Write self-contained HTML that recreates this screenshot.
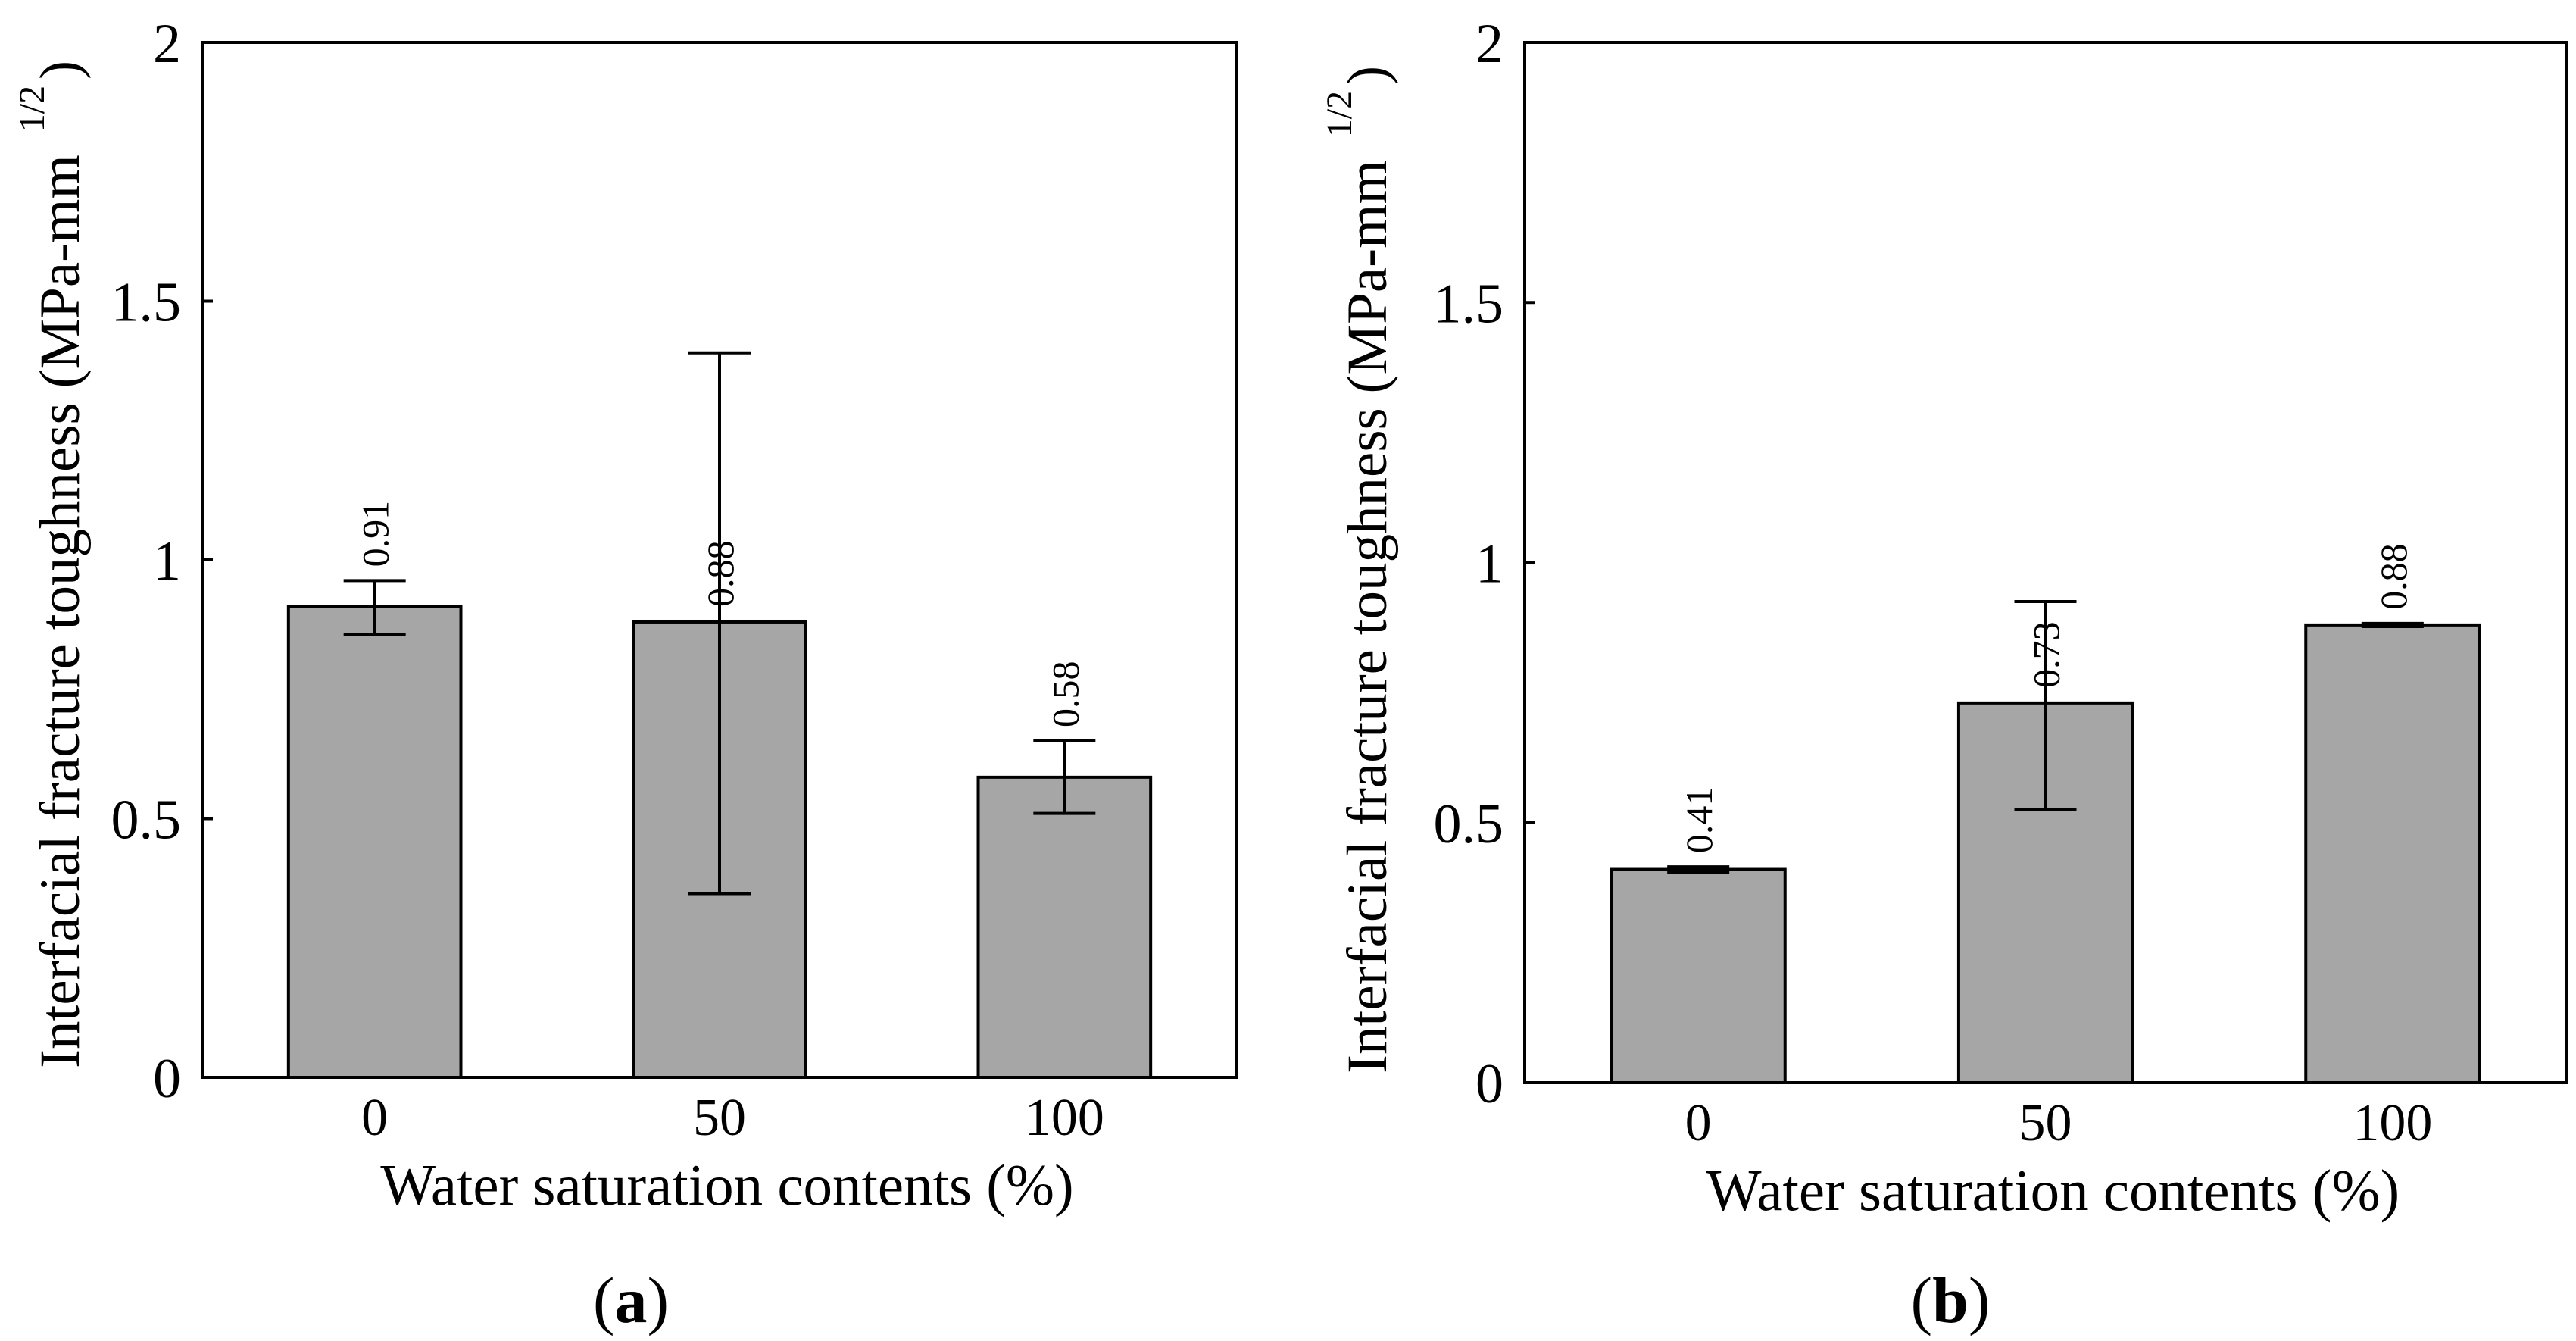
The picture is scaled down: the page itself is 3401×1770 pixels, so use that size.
<!DOCTYPE html>
<html><head><meta charset="utf-8"><style>
html,body{margin:0;padding:0;background:#fff;}
svg{display:block;font-family:"Liberation Serif",serif;}
</style></head><body>
<svg id="fig" width="3401" height="1770" viewBox="0 0 3401 1770" xmlns="http://www.w3.org/2000/svg"></svg>
<script>
const categories = ["0", "50", "100"];
const yTicks = [0, 0.5, 1, 1.5, 2];
const yTickLabels = ["0", "0.5", "1", "1.5", "2"];
const valuesA = [0.91, 0.88, 0.58];
const errLowA = [0.855, 0.355, 0.51];
const errHighA = [0.96, 1.40, 0.65];
const labelsA = ["0.91", "0.88", "0.58"];
const valuesB = [0.41, 0.73, 0.88];
const errLowB = [0.405, 0.525, 0.877];
const errHighB = [0.415, 0.925, 0.883];
const labelsB = ["0.41", "0.73", "0.88"];

const NS = "http://www.w3.org/2000/svg";
const svg = document.getElementById("fig");
function mk(tag, attrs, parent) {
  const e = document.createElementNS(NS, tag);
  for (const k in attrs) e.setAttribute(k, attrs[k]);
  (parent || svg).appendChild(e);
  return e;
}

function drawChart(p, vals, lo, hi, labs, key) {
  const g = mk("g", {});
  
  
  const y = v => p.bottom - (v / 2) * (p.bottom - p.top);
  const band = (p.right - p.left) / categories.length;
  const xc = i => p.left + band * (i + 0.5);
  const bw = band / 2;
  vals.forEach((v, i) => {
    const r = mk("rect", {x: xc(i) - bw / 2, y: y(v), width: bw, height: p.bottom - y(v), fill: "#a6a6a6", stroke: "#000", "stroke-width": 4}, g);
    
    
  });
  vals.forEach((v, i) => {
    const eg = mk("g", {stroke: "#000", "stroke-width": 4}, g);
    
    
    const cx = xc(i);
    mk("line", {x1: cx, x2: cx, y1: y(lo[i]), y2: y(hi[i])}, eg);
    mk("line", {x1: cx - 41, x2: cx + 41, y1: y(lo[i]), y2: y(lo[i])}, eg);
    mk("line", {x1: cx - 41, x2: cx + 41, y1: y(hi[i]), y2: y(hi[i])}, eg);
  });
  vals.forEach((v, i) => {
    const top = y(v), cap = y(hi[i]);
    const base = (top - cap < 60) ? cap - 18 : top - 20;
    const cx = xc(i) + 18;
    const t = mk("text", {x: cx, y: base, "font-size": 50, transform: `rotate(-90 ${cx} ${base})`, "text-anchor": "start"}, g);
    t.textContent = labs[i];
    
    
  });
  const ax = mk("path", {d: `M${p.left},${p.top} L${p.right},${p.top} L${p.right},${p.bottom} L${p.left},${p.bottom} Z`, fill: "none", stroke: "#000", "stroke-width": 4}, g);
  
  
  yTicks.forEach((t, i) => {
    const tl = mk("line", {x1: p.left, x2: p.left + 14, y1: y(t), y2: y(t), stroke: "#000", "stroke-width": 4}, g);
    
    
    const tx = mk("text", {x: p.left - 28, y: y(t) + 26, "font-size": 74, "text-anchor": "end"}, g);
    tx.textContent = yTickLabels[i];
    
    
  });
  categories.forEach((c, i) => {
    const tx = mk("text", {x: xc(i), y: p.bottom + 76, "font-size": 70, "text-anchor": "middle"}, g);
    tx.textContent = c;
    
    
  });
  const xt = mk("text", {x: (p.left + p.right) / 2 + 10, y: p.bottom + 168, "font-size": 77, "text-anchor": "middle"}, g);
  xt.textContent = "Water saturation contents (%)";
  
  
  const ty = p.bottom - 12;
  const yt = mk("text", {x: p.ytx, y: ty, "font-size": 75, transform: `rotate(-90 ${p.ytx} ${ty})`, "text-anchor": "start"}, g);
  
  
  const s1 = mk("tspan", {}, yt); s1.textContent = "Interfacial fracture toughness (MPa-mm";
  const s2 = mk("tspan", {dx: 30, dy: -46, "font-size": 48}, yt); s2.textContent = "1/2";
  const s3 = mk("tspan", {dx: 8, dy: 46}, yt); s3.textContent = ")";
  const pl = mk("text", {x: p.plx, y: 1745, "font-size": 86, "text-anchor": "middle"}, g);
  
  
  const a1 = mk("tspan", {}, pl); a1.textContent = "(";
  const a2 = mk("tspan", {"font-weight": "bold"}, pl); a2.textContent = key;
  const a3 = mk("tspan", {}, pl); a3.textContent = ")";
}

drawChart({left: 267, right: 1633, top: 56, bottom: 1422, ytx: 104, plx: 833}, valuesA, errLowA, errHighA, labelsA, "a");
drawChart({left: 2013, right: 3388, top: 56, bottom: 1429, ytx: 1830, plx: 2575}, valuesB, errLowB, errHighB, labelsB, "b");
</script>
</body></html>
